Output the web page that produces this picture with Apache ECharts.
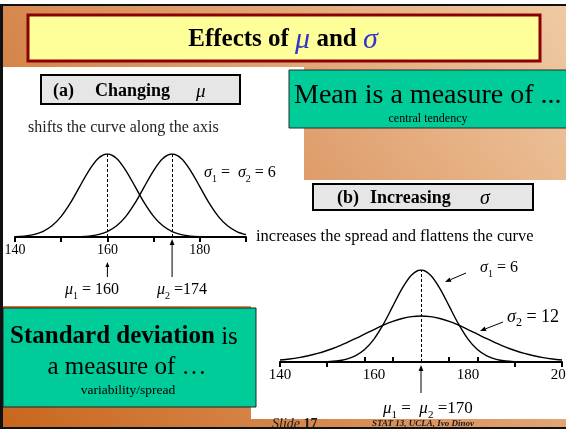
<!DOCTYPE html>
<html>
<head>
<meta charset="utf-8">
<script src="https://cdn.jsdelivr.net/npm/echarts@6/dist/echarts.min.js"></script>
<style>
  html, body { margin: 0; padding: 0; background: #fff; }
  #chart { width: 566px; height: 431px; }
</style>
</head>
<body>
<div id="chart"></div>
<script>
// panel (a): same sigma, means 160 and 174 (relative heights, peak = 1)
const xsA = [140, 142, 144, 146, 148, 150, 152, 154, 156, 158, 160, 162, 164, 166, 168, 170, 172, 174, 176, 178, 180, 182, 184, 186, 188, 190];
const curveMu160 = [0.004, 0.011, 0.029, 0.066, 0.135, 0.249, 0.411, 0.607, 0.801, 0.946, 1, 0.946, 0.801, 0.607, 0.411, 0.249, 0.135, 0.066, 0.029, 0.011, 0.004, 0.001, 0, 0, 0, 0];
const curveMu174 = [0, 0, 0, 0, 0, 0, 0.001, 0.004, 0.011, 0.029, 0.066, 0.135, 0.249, 0.411, 0.607, 0.801, 0.946, 1, 0.946, 0.801, 0.607, 0.411, 0.249, 0.135, 0.066, 0.029];
const meansA = [160, 174];
const ticksA = [140, 150, 160, 170, 180, 190];
const labelsA = [140, 160, 180];

// panel (b): mean 170, sigma 6 and 12
const xsB = [140, 142, 144, 146, 148, 150, 152, 154, 156, 158, 160, 162, 164, 166, 168, 170, 172, 174, 176, 178, 180, 182, 184, 186, 188, 190, 192, 194, 196, 198, 200];
const curveSigma6 = [0, 0, 0, 0, 0.001, 0.004, 0.011, 0.029, 0.066, 0.135, 0.249, 0.411, 0.607, 0.801, 0.946, 1, 0.946, 0.801, 0.607, 0.411, 0.249, 0.135, 0.066, 0.029, 0.011, 0.004, 0.001, 0, 0, 0, 0];
const curveSigma12 = [0.022, 0.033, 0.048, 0.068, 0.093, 0.125, 0.162, 0.206, 0.253, 0.303, 0.353, 0.4, 0.441, 0.473, 0.493, 0.5, 0.493, 0.473, 0.441, 0.4, 0.353, 0.303, 0.253, 0.206, 0.162, 0.125, 0.093, 0.068, 0.048, 0.033, 0.022];
const meanB = 170;
const ticksBDown = [140, 150, 190, 200];
const ticksBUp = [158, 164, 176, 182];
const labelsB = [140, 160, 180, 200];

const FONT = '"Liberation Serif", "DejaVu Serif", serif';

const chart = echarts.init(document.getElementById('chart'));

function pairs(xs, ys) {
  return xs.map((x, i) => [x, ys[i]]);
}

function curve(name, xAxisIndex, yAxisIndex, data, markAt) {
  return {
    name,
    type: 'line',
    xAxisIndex,
    yAxisIndex,
    data,
    showSymbol: false,
    smooth: 0.3,
    lineStyle: { color: '#000', width: 1.4 },
    markLine: markAt == null ? undefined : {
      symbol: 'none',
      silent: true,
      label: { show: false },
      lineStyle: { color: '#000', type: [3, 2], width: 1 },
      data: [{ xAxis: markAt }],
    },
    z: 3,
  };
}

chart.setOption({
  animation: false,
  grid: [
    { left: 15, top: 154, width: 231, height: 83, outerBoundsMode: 'none', containLabel: false },
    { left: 280, top: 270, width: 282, height: 92, outerBoundsMode: 'none', containLabel: false },
  ],
  xAxis: [
    {
      gridIndex: 0, type: 'value', min: 140, max: 190,
      axisLine: { onZero: false, lineStyle: { color: '#000', width: 2 } },
      axisTick: { customValues: ticksA, length: 5, lineStyle: { color: '#000', width: 2 } },
      axisLabel: { customValues: labelsA, color: '#000', fontSize: 14, fontFamily: FONT, margin: 6 },
      splitLine: { show: false },
    },
    {
      gridIndex: 1, type: 'value', min: 140, max: 200, position: 'bottom',
      axisLine: { onZero: false, lineStyle: { color: '#000', width: 2 } },
      axisTick: { customValues: ticksBDown, length: 5, lineStyle: { color: '#000', width: 2 } },
      axisLabel: { customValues: labelsB, color: '#000', fontSize: 15, fontFamily: FONT, margin: 6 },
      splitLine: { show: false },
    },
    {
      gridIndex: 1, type: 'value', min: 140, max: 200, position: 'bottom', offset: 0,
      axisLine: { show: false, onZero: false },
      axisTick: { customValues: ticksBUp, inside: true, length: 5, lineStyle: { color: '#000', width: 2 } },
      axisLabel: { show: false },
      splitLine: { show: false },
    },
  ],
  yAxis: [
    { gridIndex: 0, type: 'value', min: 0, max: 1, show: false },
    { gridIndex: 1, type: 'value', min: 0, max: 1, show: false },
  ],
  series: [
    curve('mu160', 0, 0, pairs(xsA, curveMu160), meansA[0]),
    curve('mu174', 0, 0, pairs(xsA, curveMu174), meansA[1]),
    curve('sigma6', 1, 1, pairs(xsB, curveSigma6), meanB),
    curve('sigma12', 1, 1, pairs(xsB, curveSigma12), null),
  ],
});

// arrow from (x1,y1) to tip (x2,y2)
function arrow(x1, y1, x2, y2, head) {
  const h = head || 6;
  const dx = x2 - x1, dy = y2 - y1;
  const len = Math.sqrt(dx * dx + dy * dy);
  const ux = dx / len, uy = dy / len;
  const bx = x2 - ux * h, by = y2 - uy * h;
  const w = h * 0.4;
  return [
    { type: 'line', z: 10, shape: { x1, y1, x2: bx, y2: by }, style: { stroke: '#000', lineWidth: 1 } },
    { type: 'polygon', z: 10, shape: { points: [[x2, y2], [bx - uy * w, by + ux * w], [bx + uy * w, by - ux * w]] }, style: { fill: '#000' } },
  ];
}

function text(x, y, str, opts) {
  return {
    type: 'text', z: 10, x, y,
    style: Object.assign({
      text: str, fill: '#000', font: '14px ' + FONT,
      textAlign: 'left', textVerticalAlign: 'middle',
    }, opts || {}),
  };
}

function richText(x, y, str, rich, align) {
  return {
    type: 'text', z: 10, x, y,
    style: {
      text: str, rich, fill: '#000', fontFamily: FONT,
      align: align || 'left', verticalAlign: 'middle',
    },
  };
}

// greek letter with subscript: {n|..} normal, {s|..} subscript
function subText(x, y, str, size) {
  return richText(x, y, str, {
    n: { fontFamily: FONT, fontSize: size, lineHeight: size + 6, fill: '#000' },
    g: { fontFamily: FONT, fontSize: size, lineHeight: size + 6, fontStyle: 'italic', fill: '#000' },
    s: { fontFamily: FONT, fontSize: Math.round(size * 0.65), lineHeight: Math.round(size * 0.65), verticalAlign: 'bottom', fill: '#000' },
  });
}

const pxMu160 = chart.convertToPixel({ xAxisIndex: 0 }, meansA[0]);
const pxMu174 = chart.convertToPixel({ xAxisIndex: 0 }, meansA[1]);
const pxMu170 = chart.convertToPixel({ xAxisIndex: 1 }, meanB);

const graphics = [
  // slide background
  {
    type: 'rect', z: -5, shape: { x: 0, y: 4, width: 566, height: 425 },
    style: {
      fill: new echarts.graphic.LinearGradient(0, 1, 1, 0, [
        { offset: 0, color: '#c8661c' },
        { offset: 0.5, color: '#dc9662' },
        { offset: 1, color: '#efcaa4' },
      ]),
    },
  },
  { type: 'rect', z: -4, shape: { x: 3, y: 67, width: 301, height: 239 }, style: { fill: '#fff' } },
  { type: 'rect', z: -4, shape: { x: 251, y: 180, width: 315, height: 239 }, style: { fill: '#fff' } },
  { type: 'rect', z: 12, shape: { x: 0, y: 4, width: 566, height: 2 }, style: { fill: '#111' } },
  { type: 'rect', z: 12, shape: { x: 0, y: 4, width: 3, height: 425 }, style: { fill: '#111' } },
  { type: 'rect', z: 12, shape: { x: 0, y: 427, width: 566, height: 2 }, style: { fill: '#111' } },

  // title
  { type: 'rect', z: 10, shape: { x: 28, y: 15, width: 512, height: 46 }, style: { fill: '#ffff99', stroke: '#8b0000', lineWidth: 3 } },
  richText(283, 40, '{b|Effects of }{g|μ}{b| and }{g|σ}', {
    b: { fontFamily: FONT, fontSize: 25, fontWeight: 'bold', fill: '#000' },
    g: { fontFamily: FONT, fontSize: 30, fontStyle: 'italic', fill: '#3434c8' },
  }, 'center'),

  // mean box
  { type: 'rect', z: 10, shape: { x: 289, y: 70, width: 280, height: 58 }, style: { fill: '#00cc99', stroke: '#2a2a2a', lineWidth: 1 } },
  text(294, 96, 'Mean is a measure of ...', { font: '28px ' + FONT }),
  text(428, 119, 'central tendency', { font: '12px ' + FONT, textAlign: 'center' }),

  // panel (a) header
  { type: 'rect', z: 10, shape: { x: 41, y: 75, width: 199, height: 29 }, style: { fill: '#e6e6e6', stroke: '#000', lineWidth: 2 } },
  text(53, 91, '(a)', { font: 'bold 18px ' + FONT }),
  text(95, 91, 'Changing', { font: 'bold 18px ' + FONT }),
  text(196, 92, 'μ', { font: 'italic 19px ' + FONT }),
  text(28, 128, 'shifts the curve along the axis', { font: '16px ' + FONT, fill: '#222' }),
  subText(204, 173, '{g|σ}{s|1}{n| =  }{g|σ}{s|2}{n| = 6}', 16),
  subText(65, 290, '{g|μ}{s|1}{n| = 160}', 16),
  subText(157, 290, '{g|μ}{s|2}{n| =174}', 16),

  // panel (b) header
  { type: 'rect', z: 10, shape: { x: 313, y: 184, width: 220, height: 26 }, style: { fill: '#e6e6e6', stroke: '#000', lineWidth: 2 } },
  text(337, 198, '(b)', { font: 'bold 18px ' + FONT }),
  text(370, 198, 'Increasing', { font: 'bold 18px ' + FONT }),
  text(480, 199, 'σ', { font: 'italic 20px ' + FONT }),
  text(256, 237, 'increases the spread and flattens the curve', { font: '16.5px ' + FONT }),
  subText(480, 268, '{g|σ}{s|1}{n| = 6}', 16),
  subText(507, 317, '{g|σ}{s|2}{n| = 12}', 18),
  subText(383, 409, '{g|μ}{s|1}{n| =  }{g|μ}{s|2}{n| =170}', 17),

  // SD box
  { type: 'rect', z: 10, shape: { x: 3, y: 308, width: 253, height: 99 }, style: { fill: '#00cc99', stroke: '#222', lineWidth: 1 } },
  richText(10, 337, '{b|Standard deviation}{n| is}', {
    b: { fontFamily: FONT, fontSize: 25, fontWeight: 'bold', fill: '#000' },
    n: { fontFamily: FONT, fontSize: 25, fill: '#000' },
  }),
  text(127, 367, 'a measure of …', { font: '25px ' + FONT, textAlign: 'center' }),
  text(128, 390, 'variability/spread', { font: '13.5px ' + FONT, textAlign: 'center' }),

  // footer
  richText(272, 424, '{i|Slide }{b|17}', {
    i: { fontFamily: FONT, fontSize: 14, fontStyle: 'italic', fill: '#1a1a1a' },
    b: { fontFamily: FONT, fontSize: 14, fontWeight: 'bold', fill: '#1a1a1a' },
  }),
  text(372, 424, 'STAT 13, UCLA, Ivo Dinov', { font: 'italic bold 9px ' + FONT, fill: '#1a1a1a' }),
]
  .concat(arrow(pxMu160, 277, pxMu160, 262, 5))
  .concat(arrow(pxMu174, 277, pxMu174, 239, 6))
  .concat(arrow(pxMu170, 393, pxMu170, 365, 6))
  .concat(arrow(466, 273, 445, 282, 6))
  .concat(arrow(503, 322, 480, 331, 6));

chart.setOption({ graphic: { elements: graphics } });

window.addEventListener('resize', () => chart.resize());
</script>
</body>
</html>
